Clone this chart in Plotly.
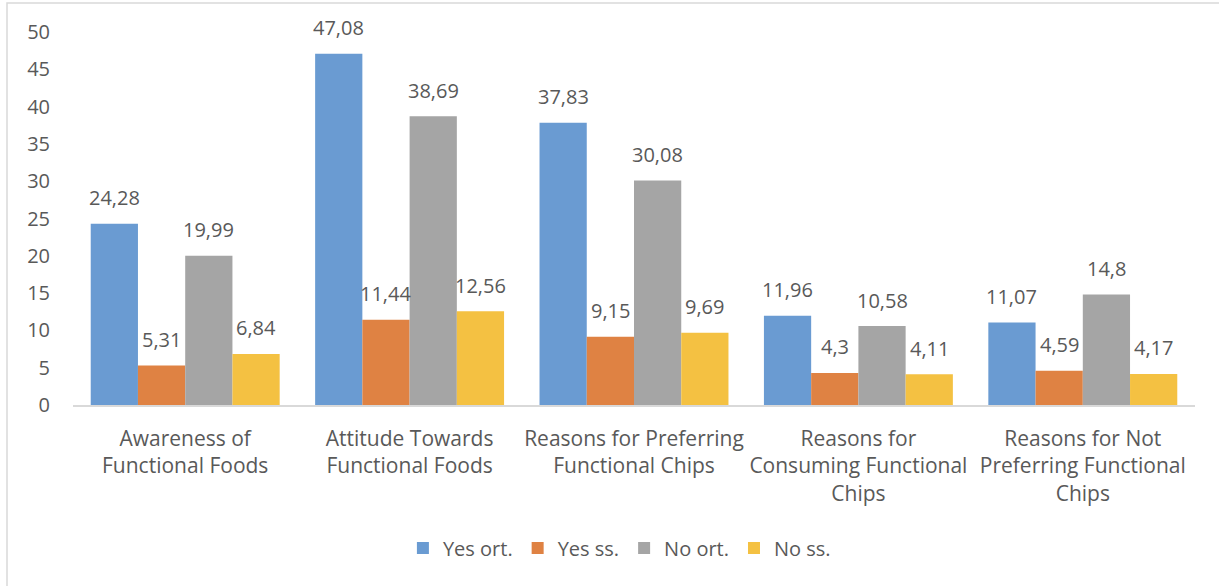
import plotly.graph_objects as go

categories = [
    "Awareness of<br>Functional Foods",
    "Attitude Towards<br>Functional Foods",
    "Reasons for Preferring<br>Functional Chips",
    "Reasons for<br>Consuming Functional<br>Chips",
    "Reasons for Not<br>Preferring Functional<br>Chips",
]
series_names = ["Yes ort.", "Yes ss.", "No ort.", "No ss."]
yes_ort = [24.28, 47.08, 37.83, 11.96, 11.07]
yes_ss = [5.31, 11.44, 9.15, 4.30, 4.59]
no_ort = [19.99, 38.69, 30.08, 10.58, 14.80]
no_ss = [6.84, 12.56, 9.69, 4.11, 4.17]
y_ticks = [0, 5, 10, 15, 20, 25, 30, 35, 40, 45, 50]

colors = ["#6A9BD2", "#DF8243", "#A5A5A5", "#F4C142"]
text_color = "#595959"
font_family = "Open Sans"

W, H = 1219, 586
margin = dict(l=73, r=24, t=32, b=181)
bargap = 0.158

fig = go.Figure()
all_series = [yes_ort, yes_ss, no_ort, no_ss]
for name, vals, col in zip(series_names, all_series, colors):
    fig.add_trace(go.Bar(
        name=name, x=categories, y=vals,
        marker=dict(color=col, line=dict(width=0)),
        hoverinfo="x+y+name",
    ))

# value labels above each bar, written with a comma decimal separator
plot_w = W - margin["l"] - margin["r"]
band = plot_w / len(categories)
bar_w = band * (1 - bargap) / len(all_series)
for s, vals in enumerate(all_series):
    shift = (s - (len(all_series) - 1) / 2) * bar_w
    for cat, v in zip(categories, vals):
        label = f"{v:g}".replace(".", ",")
        fig.add_annotation(
            x=cat, y=v, xref="x", yref="y", text=label, showarrow=False,
            xshift=shift, yshift=26, yanchor="middle",
            font=dict(family=font_family, size=20, color=text_color),
        )

# thin frame around the whole chart area
fig.add_shape(
    type="rect", xref="paper", yref="paper",
    x0=(7 - margin["l"]) / plot_w, x1=1.2,
    y0=-1.0, y1=1 + (margin["t"] - 3) / (H - margin["t"] - margin["b"]),
    line=dict(color="#D9D9D9", width=1.5), fillcolor="rgba(0,0,0,0)",
    layer="below",
)

fig.update_layout(
    width=W, height=H, margin=margin,
    barmode="group", bargap=bargap, bargroupgap=0,
    plot_bgcolor="white", paper_bgcolor="white",
    font=dict(family=font_family, size=20, color=text_color),
    legend=dict(
        orientation="h", x=0.487, xanchor="center",
        y=(405 - 548) / (H - margin["t"] - margin["b"]), yanchor="middle",
        font=dict(family=font_family, size=20, color=text_color),
        itemwidth=30, traceorder="normal",
    ),
    xaxis=dict(
        showline=True, linecolor="#D9D9D9", linewidth=1.5,
        ticks="", showgrid=False, ticklabelstandoff=14,
        tickfont=dict(family=font_family, size=21, color=text_color),
    ),
    yaxis=dict(
        range=[0, 50], tickvals=y_ticks, showgrid=False, zeroline=False,
        showline=False, ticks="", ticklabelstandoff=22,
        tickfont=dict(family=font_family, size=20, color=text_color),
    ),
)

fig.write_html("out.html")
